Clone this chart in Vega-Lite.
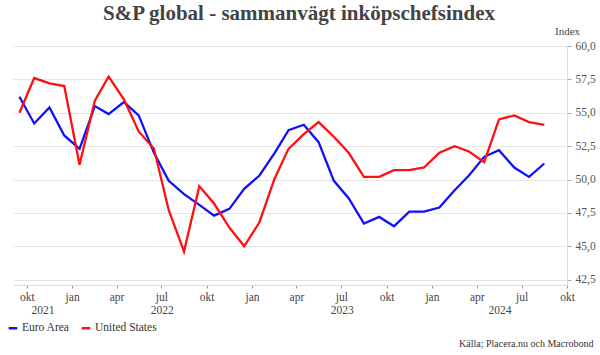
{
  "$schema": "https://vega.github.io/schema/vega-lite/v6.json",
  "width": 554,
  "height": 239,
  "autosize": {"type": "none"},
  "padding": {"left": 13, "top": 46, "right": 33, "bottom": 70},
  "background": "white",
  "title": {
    "text": "S&P global - sammanvägt inköpschefsindex",
    "font": "Liberation Serif",
    "fontSize": 21,
    "fontWeight": "bold",
    "color": "#444444",
    "anchor": "middle",
    "dx": 9,
    "offset": 1
  },
  "config": {"view": {"stroke": null}, "font": "Liberation Serif"},
  "data": {
    "values": [
      {"date": "2021-09-16", "series": "Euro Area", "value": 56.2},
      {"date": "2021-10-16", "series": "Euro Area", "value": 54.2},
      {"date": "2021-11-16", "series": "Euro Area", "value": 55.4},
      {"date": "2021-12-16", "series": "Euro Area", "value": 53.3},
      {"date": "2022-01-16", "series": "Euro Area", "value": 52.3},
      {"date": "2022-02-16", "series": "Euro Area", "value": 55.5},
      {"date": "2022-03-16", "series": "Euro Area", "value": 54.9},
      {"date": "2022-04-16", "series": "Euro Area", "value": 55.8},
      {"date": "2022-05-16", "series": "Euro Area", "value": 54.8},
      {"date": "2022-06-16", "series": "Euro Area", "value": 52.0},
      {"date": "2022-07-16", "series": "Euro Area", "value": 49.9},
      {"date": "2022-08-16", "series": "Euro Area", "value": 48.9},
      {"date": "2022-09-16", "series": "Euro Area", "value": 48.1},
      {"date": "2022-10-16", "series": "Euro Area", "value": 47.3},
      {"date": "2022-11-16", "series": "Euro Area", "value": 47.8},
      {"date": "2022-12-16", "series": "Euro Area", "value": 49.3},
      {"date": "2023-01-16", "series": "Euro Area", "value": 50.3},
      {"date": "2023-02-16", "series": "Euro Area", "value": 52.0},
      {"date": "2023-03-16", "series": "Euro Area", "value": 53.7},
      {"date": "2023-04-16", "series": "Euro Area", "value": 54.1},
      {"date": "2023-05-16", "series": "Euro Area", "value": 52.8},
      {"date": "2023-06-16", "series": "Euro Area", "value": 49.9},
      {"date": "2023-07-16", "series": "Euro Area", "value": 48.6},
      {"date": "2023-08-16", "series": "Euro Area", "value": 46.7},
      {"date": "2023-09-16", "series": "Euro Area", "value": 47.2},
      {"date": "2023-10-16", "series": "Euro Area", "value": 46.5},
      {"date": "2023-11-16", "series": "Euro Area", "value": 47.6},
      {"date": "2023-12-16", "series": "Euro Area", "value": 47.6},
      {"date": "2024-01-16", "series": "Euro Area", "value": 47.9},
      {"date": "2024-02-16", "series": "Euro Area", "value": 49.2},
      {"date": "2024-03-16", "series": "Euro Area", "value": 50.3},
      {"date": "2024-04-16", "series": "Euro Area", "value": 51.7},
      {"date": "2024-05-16", "series": "Euro Area", "value": 52.2},
      {"date": "2024-06-16", "series": "Euro Area", "value": 50.9},
      {"date": "2024-07-16", "series": "Euro Area", "value": 50.2},
      {"date": "2024-08-16", "series": "Euro Area", "value": 51.2},
      {"date": "2021-09-16", "series": "United States", "value": 55.0},
      {"date": "2021-10-16", "series": "United States", "value": 57.6},
      {"date": "2021-11-16", "series": "United States", "value": 57.2},
      {"date": "2021-12-16", "series": "United States", "value": 57.0},
      {"date": "2022-01-16", "series": "United States", "value": 51.1},
      {"date": "2022-02-16", "series": "United States", "value": 55.9},
      {"date": "2022-03-16", "series": "United States", "value": 57.7},
      {"date": "2022-04-16", "series": "United States", "value": 56.0},
      {"date": "2022-05-16", "series": "United States", "value": 53.6},
      {"date": "2022-06-16", "series": "United States", "value": 52.3},
      {"date": "2022-07-16", "series": "United States", "value": 47.7},
      {"date": "2022-08-16", "series": "United States", "value": 44.6},
      {"date": "2022-09-16", "series": "United States", "value": 49.5},
      {"date": "2022-10-16", "series": "United States", "value": 48.2},
      {"date": "2022-11-16", "series": "United States", "value": 46.4},
      {"date": "2022-12-16", "series": "United States", "value": 45.0},
      {"date": "2023-01-16", "series": "United States", "value": 46.8},
      {"date": "2023-02-16", "series": "United States", "value": 50.1},
      {"date": "2023-03-16", "series": "United States", "value": 52.3},
      {"date": "2023-04-16", "series": "United States", "value": 53.4},
      {"date": "2023-05-16", "series": "United States", "value": 54.3},
      {"date": "2023-06-16", "series": "United States", "value": 53.2},
      {"date": "2023-07-16", "series": "United States", "value": 52.0},
      {"date": "2023-08-16", "series": "United States", "value": 50.2},
      {"date": "2023-09-16", "series": "United States", "value": 50.2},
      {"date": "2023-10-16", "series": "United States", "value": 50.7},
      {"date": "2023-11-16", "series": "United States", "value": 50.7},
      {"date": "2023-12-16", "series": "United States", "value": 50.9},
      {"date": "2024-01-16", "series": "United States", "value": 52.0},
      {"date": "2024-02-16", "series": "United States", "value": 52.5},
      {"date": "2024-03-16", "series": "United States", "value": 52.1},
      {"date": "2024-04-16", "series": "United States", "value": 51.3},
      {"date": "2024-05-16", "series": "United States", "value": 54.5},
      {"date": "2024-06-16", "series": "United States", "value": 54.8},
      {"date": "2024-07-16", "series": "United States", "value": 54.3},
      {"date": "2024-08-16", "series": "United States", "value": 54.1}
    ]
  },
  "encoding": {
    "y": {
      "field": "value",
      "type": "quantitative",
      "scale": {"domain": [42.1, 60], "nice": false, "zero": false},
      "axis": {
        "orient": "right",
        "values": [42.5, 45, 47.5, 50, 52.5, 55, 57.5, 60],
        "labelExpr": "replace(format(datum.value, '.1f'), '.', ',')",
        "labelFont": "Liberation Serif",
        "labelFontSize": 11.5,
        "labelColor": "#555555",
        "labelPadding": 4,
        "labelFlush": false,
        "domainColor": "#dddddd",
        "tickColor": "#aaaaaa",
        "tickSize": 4,
        "grid": true,
        "gridColor": "#e6e6e6",
        "title": "Index",
        "titleAngle": 0,
        "titleX": 0,
        "titleY": -10,
        "titleAlign": "center",
        "titleBaseline": "bottom",
        "titleFont": "Liberation Serif",
        "titleFontSize": 11,
        "titleFontWeight": "normal",
        "titleColor": "#444444"
      }
    }
  },
  "layer": [
    {
      "mark": {"type": "line", "strokeWidth": 2.3},
      "encoding": {
        "x": {
          "field": "date",
          "type": "temporal",
          "scale": {
            "type": "utc",
            "domain": [
              {"year": 2021, "month": 9, "date": 3, "utc": true},
              {"year": 2024, "month": 10, "date": 1, "utc": true}
            ]
          },
          "axis": {
            "orient": "bottom",
            "title": null,
            "grid": false,
            "values": [
              {"year": 2021, "month": 10, "date": 1, "utc": true},
              {"year": 2022, "month": 1, "date": 1, "utc": true},
              {"year": 2022, "month": 4, "date": 1, "utc": true},
              {"year": 2022, "month": 7, "date": 1, "utc": true},
              {"year": 2022, "month": 10, "date": 1, "utc": true},
              {"year": 2023, "month": 1, "date": 1, "utc": true},
              {"year": 2023, "month": 4, "date": 1, "utc": true},
              {"year": 2023, "month": 7, "date": 1, "utc": true},
              {"year": 2023, "month": 10, "date": 1, "utc": true},
              {"year": 2024, "month": 1, "date": 1, "utc": true},
              {"year": 2024, "month": 4, "date": 1, "utc": true},
              {"year": 2024, "month": 7, "date": 1, "utc": true},
              {"year": 2024, "month": 10, "date": 1, "utc": true}
            ],
            "labelExpr": "['jan','feb','mar','apr','maj','jun','jul','aug','sep','okt','nov','dec'][utcmonth(datum.value)]",
            "labelFont": "Liberation Serif",
            "labelFontSize": 11.5,
            "labelColor": "#444444",
            "labelPadding": 3,
            "labelFlush": false,
            "labelOverlap": false,
            "domainColor": "#dddddd",
            "tickColor": "#999999",
            "tickSize": 3
          }
        },
        "color": {
          "field": "series",
          "type": "nominal",
          "scale": {"domain": ["Euro Area", "United States"], "range": ["#1010ff", "#ff1010"]},
          "legend": {
            "orient": "none",
            "legendX": -6,
            "legendY": 276,
            "direction": "horizontal",
            "title": null,
            "symbolType": "stroke",
            "symbolSize": 75,
            "symbolStrokeWidth": 2.5,
            "labelFont": "Liberation Serif",
            "labelFontSize": 11.5,
            "labelColor": "#333333",
            "labelOffset": 3,
            "columnPadding": 6
          }
        }
      }
    },
    {
      "mark": {"type": "line", "opacity": 0},
      "encoding": {
        "x": {
          "field": "date",
          "type": "temporal",
          "axis": {
            "orient": "bottom",
            "grid": false,
            "domain": false,
            "ticks": false,
            "values": [
              {"year": 2021, "month": 11, "date": 2, "utc": true},
              {"year": 2022, "month": 7, "date": 2, "utc": true},
              {"year": 2023, "month": 7, "date": 2, "utc": true},
              {"year": 2024, "month": 5, "date": 17, "utc": true}
            ],
            "labelExpr": "utcFormat(datum.value, '%Y')",
            "labelFont": "Liberation Serif",
            "labelFontSize": 11.5,
            "labelColor": "#444444",
            "labelPadding": 19,
            "labelFlush": false,
            "labelOverlap": false,
            "title": "Källa; Placera.nu och Macrobond",
            "titleFont": "Liberation Serif",
            "titleFontSize": 10,
            "titleFontWeight": "normal",
            "titleColor": "#333333",
            "titleAlign": "right",
            "titleAnchor": null,
            "titleX": 580,
            "titleY": 58,
            "titleBaseline": "middle"
          }
        },
        "detail": {"field": "series", "type": "nominal"}
      }
    }
  ],
  "resolve": {"axis": {"x": "independent"}}
}
